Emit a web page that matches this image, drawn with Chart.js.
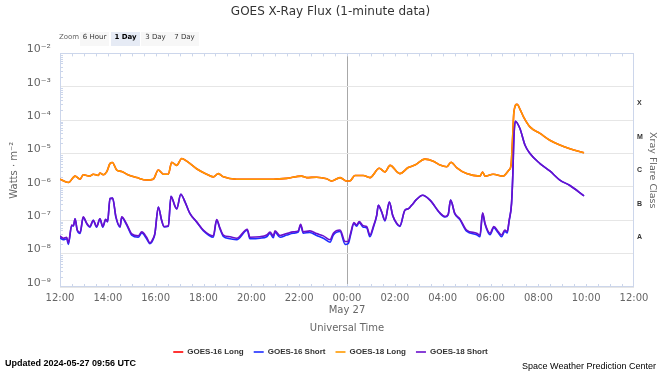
<!DOCTYPE html>
<html>
<head>
<meta charset="utf-8">
<script src="https://cdn.jsdelivr.net/npm/chart.js@4.4.1/dist/chart.umd.min.js"></script>
<style>
  html, body { margin: 0; padding: 0; background: #fff; }
  #wrap { position: relative; width: 661px; height: 371px; overflow: hidden; }
  #chart { position: absolute; left: 0; top: 0; }
  .zoom-label { position: absolute; left: 59px; top: 32px; height: 13px; line-height: 13px; padding-top: 1px;
    font: 7px "DejaVu Sans", sans-serif; color: #666; }
  .zoom-btn { position: absolute; top: 32px; width: 29px; height: 13px; line-height: 13px; padding-top: 1px;
    text-align: center; font: 7px "DejaVu Sans", sans-serif; color: #333; background: #f7f7f7; }
  .zoom-btn.active { background: #e6ebf5; font-weight: bold; color: #000; }
  #updated { position: absolute; left: 5px; top: 358px; font: bold 9px "Liberation Sans", sans-serif; color: #000; }
  #swpc { position: absolute; right: 5px; top: 361px; font: 9px "Liberation Sans", sans-serif; color: #000; }
</style>
</head>
<body>
<div id="wrap">
  <canvas id="chart" width="661" height="371"></canvas>
  <div class="zoom-label">Zoom</div>
  <div class="zoom-btn" style="left:80px">6 Hour</div>
  <div class="zoom-btn active" style="left:111px">1 Day</div>
  <div class="zoom-btn" style="left:141px">3 Day</div>
  <div class="zoom-btn" style="left:170px">7 Day</div>
  <div id="updated">Updated 2024-05-27 09:56 UTC</div>
  <div id="swpc">Space Weather Prediction Center</div>
</div>
<script>
// hours since 12:00 UT on May 26
const longTimes = [
  0.00, 0.35, 0.63, 0.84, 0.97, 1.25, 1.39, 1.60, 1.67, 1.81,
  1.95, 2.09, 2.19, 2.37, 2.58, 2.79, 3.21, 3.62, 3.90, 4.11,
  4.32, 4.53, 4.67, 4.81, 4.88, 5.09, 5.30, 5.71, 6.13, 6.41,
  6.62, 6.83, 7.39, 7.81, 8.36, 8.92, 9.48, 10.10, 10.31, 10.73,
  11.15, 11.36, 11.71, 11.99, 12.12, 12.33, 12.68, 12.96, 13.35, 13.59,
  13.80, 14.21, 14.56, 14.84, 15.26, 15.61, 15.89, 16.17, 16.35, 16.58,
  17.00, 17.56, 17.67, 17.77, 18.11, 18.53, 18.77, 18.86, 18.92, 18.98,
  19.11, 19.25, 19.38, 19.65, 20.07, 20.48, 20.90, 21.32, 21.91
];
const g18Long = [
  1.7e-6, 1.35e-6, 2.1e-6, 1.7e-6, 2.3e-6, 2.1e-6, 2.4e-6, 2.2e-6, 2.6e-6, 2.3e-6,
  2.8e-6, 5.0e-6, 5.4e-6, 3.2e-6, 2.9e-6, 2.4e-6, 1.9e-6, 1.6e-6, 1.7e-6, 3.2e-6,
  2.4e-6, 2.4e-6, 5.5e-6, 4.7e-6, 4.4e-6, 7.1e-6, 5.9e-6, 3.5e-6, 2.4e-6, 2.0e-6,
  2.5e-6, 2.0e-6, 1.7e-6, 1.7e-6, 1.7e-6, 1.7e-6, 1.8e-6, 2.1e-6, 1.9e-6, 1.95e-6,
  1.75e-6, 1.5e-6, 1.9e-6, 1.5e-6, 1.5e-6, 2.2e-6, 2.2e-6, 1.9e-6, 3.6e-6, 2.8e-6,
  4.4e-6, 2.5e-6, 3.8e-6, 4.5e-6, 6.8e-6, 5.9e-6, 4.5e-6, 4.0e-6, 5.5e-6, 3.8e-6,
  2.5e-6, 2.1e-6, 2.8e-6, 2.1e-6, 2.4e-6, 2.1e-6, 3.2e-6, 4.5e-6, 2.5e-5, 1.8e-4,
  3.0e-4, 2.0e-4, 1.26e-4, 6.3e-5, 4.0e-5, 2.5e-5, 1.8e-5, 1.4e-5, 1.05e-5
];
// GOES-16 long sits right under the GOES-18 long trace
const g16Long = [
  1.7e-6, 1.35e-6, 2.1e-6, 1.7e-6, 2.3e-6, 2.1e-6, 2.4e-6, 2.2e-6, 2.6e-6, 2.3e-6,
  2.8e-6, 5.0e-6, 5.4e-6, 3.2e-6, 2.9e-6, 2.4e-6, 1.9e-6, 1.6e-6, 1.7e-6, 3.2e-6,
  2.4e-6, 2.4e-6, 5.5e-6, 4.7e-6, 4.4e-6, 7.1e-6, 5.9e-6, 3.5e-6, 2.4e-6, 2.0e-6,
  2.5e-6, 2.0e-6, 1.7e-6, 1.7e-6, 1.7e-6, 1.7e-6, 1.8e-6, 2.1e-6, 1.9e-6, 1.95e-6,
  1.75e-6, 1.5e-6, 1.9e-6, 1.5e-6, 1.5e-6, 2.2e-6, 2.2e-6, 1.9e-6, 3.6e-6, 2.8e-6,
  4.4e-6, 2.5e-6, 3.8e-6, 4.5e-6, 6.8e-6, 5.9e-6, 4.5e-6, 4.0e-6, 5.5e-6, 3.8e-6,
  2.5e-6, 2.1e-6, 2.8e-6, 2.1e-6, 2.4e-6, 2.1e-6, 3.2e-6, 4.5e-6, 2.5e-5, 1.8e-4,
  3.0e-4, 2.0e-4, 1.26e-4, 6.3e-5, 4.0e-5, 2.5e-5, 1.8e-5, 1.4e-5, 1.05e-5
];

const shortTimes = [
  0.00, 0.14, 0.28, 0.35, 0.49, 0.56, 0.63, 0.72, 0.84, 0.97,
  1.12, 1.25, 1.39, 1.53, 1.67, 1.79, 1.91, 1.99, 2.09, 2.20,
  2.34, 2.51, 2.58, 2.79, 3.00, 3.27, 3.42, 3.62, 3.76, 3.90,
  3.97, 4.11, 4.25, 4.35, 4.53, 4.64, 4.81, 4.88, 5.05, 5.23,
  5.43, 5.71, 5.99, 6.41, 6.55, 6.69, 6.83, 7.11, 7.39, 7.83,
  7.94, 8.36, 8.64, 8.78, 8.92, 8.99, 9.20, 9.48, 9.75, 9.96,
  10.06, 10.17, 10.45, 10.73, 11.01, 11.29, 11.43, 11.71, 11.92, 12.05,
  12.15, 12.29, 12.40, 12.51, 12.68, 12.82, 12.96, 13.10, 13.24, 13.31,
  13.45, 13.59, 13.77, 13.91, 14.08, 14.21, 14.42, 14.56, 14.70, 14.91,
  15.16, 15.47, 15.89, 16.10, 16.23, 16.33, 16.51, 16.72, 17.00, 17.42,
  17.56, 17.67, 17.77, 17.98, 18.14, 18.32, 18.46, 18.60, 18.70, 18.78,
  18.88, 18.93, 18.98, 19.04, 19.23, 19.44, 19.65, 20.07, 20.48, 20.90,
  21.32, 21.91
];
const g18Short = [
  3.4e-8, 2.9e-8, 3.1e-8, 2.1e-8, 7.2e-8, 6.9e-8, 1.1e-7, 5.1e-8, 4.3e-8, 1.26e-7,
  8.1e-8, 6.5e-8, 1.0e-7, 6.5e-8, 1.1e-7, 6.5e-8, 1.07e-7, 9.1e-8, 4.5e-7, 4.6e-7,
  1.26e-7, 6.5e-8, 1.26e-7, 7.6e-8, 3.9e-8, 3.4e-8, 4.5e-8, 3.1e-8, 2.1e-8, 2.9e-8,
  4.1e-8, 2.5e-7, 1.0e-7, 6.5e-8, 6.8e-8, 5.2e-7, 2.6e-7, 2.2e-7, 6.0e-7, 3.5e-7,
  1.6e-7, 9.1e-8, 5.1e-8, 3.4e-8, 1.05e-7, 5.8e-8, 3.6e-8, 3.2e-8, 2.9e-8, 5.4e-8,
  3.1e-8, 3.2e-8, 3.6e-8, 4.4e-8, 3.4e-8, 4.8e-8, 3.5e-8, 4.0e-8, 4.5e-8, 4.8e-8,
  7.6e-8, 4.5e-8, 4.8e-8, 4.0e-8, 3.4e-8, 2.6e-8, 4.1e-8, 5.1e-8, 2.3e-8, 2.3e-8,
  4.1e-8, 8.5e-8, 7.2e-8, 9.1e-8, 6.8e-8, 6.5e-8, 3.6e-8, 6.5e-8, 1.4e-7, 2.8e-7,
  1.8e-7, 1.0e-7, 3.5e-7, 1.4e-7, 8.1e-8, 6.8e-8, 2.0e-7, 2.2e-7, 2.8e-7, 4.2e-7,
  5.6e-7, 4.0e-7, 1.66e-7, 1.3e-7, 1.5e-7, 4.0e-7, 1.6e-7, 1.1e-7, 5.1e-8, 4.1e-8,
  3.6e-8, 1.66e-7, 8.1e-8, 4.1e-8, 6.5e-8, 4.6e-8, 3.6e-8, 5.1e-8, 4.6e-8, 1.0e-7,
  3.2e-7, 2.0e-6, 3.2e-5, 9.3e-5, 5.6e-5, 1.8e-5, 1.0e-5, 5.0e-6, 3.0e-6, 1.6e-6,
  1.1e-6, 5.4e-7
];
const g16Short = [
  3.0e-8, 2.6e-8, 2.8e-8, 1.9e-8, 7.0e-8, 6.7e-8, 1.1e-7, 5.0e-8, 4.0e-8, 1.2e-7,
  7.8e-8, 6.2e-8, 1.0e-7, 6.2e-8, 1.1e-7, 6.2e-8, 1.05e-7, 9.0e-8, 4.5e-7, 4.6e-7,
  1.2e-7, 6.2e-8, 1.2e-7, 7.2e-8, 3.6e-8, 3.1e-8, 4.2e-8, 2.8e-8, 2.0e-8, 2.7e-8,
  4.0e-8, 2.5e-7, 9.8e-8, 6.3e-8, 6.6e-8, 5.2e-7, 2.6e-7, 2.2e-7, 6.0e-7, 3.5e-7,
  1.6e-7, 8.9e-8, 4.9e-8, 3.1e-8, 1.0e-7, 5.5e-8, 3.3e-8, 2.8e-8, 2.6e-8, 5.0e-8,
  2.8e-8, 2.9e-8, 3.2e-8, 4.0e-8, 3.0e-8, 4.4e-8, 3.1e-8, 3.6e-8, 4.1e-8, 4.4e-8,
  7.2e-8, 4.1e-8, 4.3e-8, 3.5e-8, 2.9e-8, 2.2e-8, 3.6e-8, 4.6e-8, 1.9e-8, 2.0e-8,
  3.6e-8, 8.0e-8, 6.6e-8, 8.5e-8, 6.2e-8, 6.0e-8, 3.2e-8, 6.0e-8, 1.35e-7, 2.8e-7,
  1.75e-7, 9.6e-8, 3.5e-7, 1.4e-7, 7.8e-8, 6.5e-8, 2.0e-7, 2.2e-7, 2.8e-7, 4.2e-7,
  5.6e-7, 4.0e-7, 1.6e-7, 1.25e-7, 1.45e-7, 4.0e-7, 1.55e-7, 1.05e-7, 4.7e-8, 3.7e-8,
  3.2e-8, 1.6e-7, 7.6e-8, 3.7e-8, 6.0e-8, 4.2e-8, 3.2e-8, 4.6e-8, 4.2e-8, 9.6e-8,
  3.2e-7, 2.0e-6, 3.2e-5, 9.3e-5, 5.6e-5, 1.8e-5, 1.0e-5, 5.0e-6, 3.0e-6, 1.6e-6,
  1.1e-6, 5.4e-7
];

const xTickLabels = ['12:00', '14:00', '16:00', '18:00', '20:00', '22:00', ['00:00', 'May 27'],
  '02:00', '04:00', '06:00', '08:00', '10:00', '12:00'];
const decades = [-9, -8, -7, -6, -5, -4, -3, -2];
const yTickLabels = ['10⁻⁹', '10⁻⁸', '10⁻⁷', '10⁻⁶', '10⁻⁵', '10⁻⁴', '10⁻³', '10⁻²'];
const minorSteps = [2, 3, 4, 5, 6, 7, 8, 9];
const flareExps = [-7.5, -6.5, -5.5, -4.5, -3.5];
const flareClasses = ['A', 'B', 'C', 'M', 'X'];

function toPoints(times, values) {
  return times.map((t, i) => ({ x: t, y: values[i] }));
}

Chart.defaults.font.family = '"DejaVu Sans", sans-serif';
Chart.defaults.color = '#666';

// axis frame, minor log ticks and half-hour ticks, like the original plot
const frame = {
  id: 'frame',
  beforeDatasetsDraw(chart) {
    const { ctx, chartArea: a, scales: { x, y } } = chart;
    ctx.save();
    ctx.strokeStyle = '#ccd6eb';
    ctx.lineWidth = 1;
    ctx.strokeRect(Math.round(a.left) + 0.5, Math.round(a.top) + 0.5,
      Math.round(a.width) - 1, Math.round(a.height) - 1);
    ctx.beginPath();
    decades.slice(0, -1).forEach(e => {
      minorSteps.forEach(m => {
        const py = Math.round(y.getPixelForValue(m * Math.pow(10, e))) + 0.5;
        ctx.moveTo(a.left, py);
        ctx.lineTo(a.left + 3, py);
      });
    });
    for (let t = 0.5; t < 24; t += 0.5) {
      const px = Math.round(x.getPixelForValue(t)) + 0.5;
      ctx.moveTo(px, a.top);
      ctx.lineTo(px, a.top + 3);
      ctx.moveTo(px, a.bottom);
      ctx.lineTo(px, a.bottom - 3);
    }
    ctx.stroke();
    ctx.restore();
  }
};

const lineStyle = { borderWidth: 1.6, pointRadius: 0, cubicInterpolationMode: 'monotone', fill: false };

new Chart(document.getElementById('chart'), {
  type: 'line',
  data: {
    datasets: [
      { label: 'GOES-16 Long', data: toPoints(longTimes, g16Long), borderColor: '#ff0000', order: 3, ...lineStyle },
      { label: 'GOES-16 Short', data: toPoints(shortTimes, g16Short), borderColor: '#1e2cff', order: 2, ...lineStyle },
      { label: 'GOES-18 Long', data: toPoints(longTimes, g18Long), borderColor: '#ff9a00', order: 1, ...lineStyle },
      { label: 'GOES-18 Short', data: toPoints(shortTimes, g18Short), borderColor: '#6a0fcc', order: 0, ...lineStyle }
    ]
  },
  options: {
    responsive: false,
    animation: false,
    layout: { padding: { left: 0, right: 0, top: 0, bottom: 5 } },
    plugins: {
      title: {
        display: true,
        text: 'GOES X-Ray Flux (1-minute data)',
        color: '#333',
        font: { size: 12, weight: 'normal' },
        padding: { top: 5, bottom: 34 }
      },
      legend: {
        position: 'bottom',
        labels: {
          usePointStyle: true,
          pointStyle: 'line',
          pointStyleWidth: 10,
          boxHeight: 8,
          padding: 10,
          color: '#333',
          font: { family: '"Liberation Sans", sans-serif', size: 8, weight: 'bold' },
          sort: (a, b) => a.datasetIndex - b.datasetIndex
        }
      },
      tooltip: { enabled: false }
    },
    scales: {
      x: {
        type: 'linear',
        min: 0,
        max: 24,
        afterFit: s => { s.height = 51; },
        ticks: {
          stepSize: 2,
          autoSkip: false,
          maxRotation: 0,
          padding: 5,
          color: '#666',
          font: { size: 10 },
          callback: (v, i) => xTickLabels[i]
        },
        grid: {
          color: c => (c.tick && c.tick.value === 12 ? '#a8a8a8' : 'rgba(0,0,0,0)'),
          drawTicks: false
        },
        border: { display: false },
        title: { display: true, text: 'Universal Time', color: '#666', font: { size: 10 }, padding: { top: 0, bottom: 4 } }
      },
      y: {
        type: 'logarithmic',
        position: 'left',
        min: 1e-9,
        max: 1e-2,
        afterBuildTicks: s => { s.ticks = decades.map(e => ({ value: Math.pow(10, e) })); },
        afterFit: s => { s.width = 60; },
        ticks: {
          autoSkip: false,
          padding: 9,
          labelOffset: -4,
          color: '#666',
          font: { size: 11 },
          callback: (v, i) => yTickLabels[i]
        },
        grid: { color: '#e6e6e6', drawTicks: false },
        border: { display: false },
        title: { display: true, text: 'Watts · m⁻²', color: '#666', font: { size: 10 }, padding: { top: 8 } }
      },
      y2: {
        type: 'logarithmic',
        position: 'right',
        min: 1e-9,
        max: 1e-2,
        afterBuildTicks: s => { s.ticks = flareExps.map(e => ({ value: Math.pow(10, e) })); },
        afterFit: s => { s.width = 27; },
        ticks: {
          autoSkip: false,
          padding: 3,
          color: '#333',
          font: { family: '"Liberation Sans", sans-serif', size: 7, weight: 'bold' },
          callback: (v, i) => flareClasses[i]
        },
        grid: { display: false, drawTicks: false },
        border: { display: false },
        title: { display: true, text: 'Xray Flare Class', color: '#666', font: { size: 9.5 }, padding: { top: 3 } }
      }
    }
  },
  plugins: [frame]
});
</script>
</body>
</html>
